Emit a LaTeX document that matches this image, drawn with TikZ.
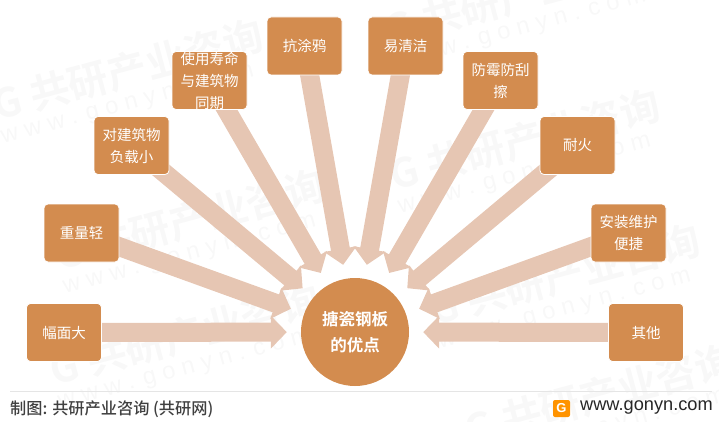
\documentclass[tikz,border=0pt]{standalone}
\usepackage{fontspec}
\usepackage{xcolor}
\usetikzlibrary{arrows.meta,backgrounds}
\newfontfamily\cjk{Noto Sans CJK SC}
\newfontfamily\cjkbold{Noto Sans CJK SC Bold}
\newfontfamily\cjkmedium{Noto Sans CJK SC Medium}
\setmainfont{Liberation Sans}
\definecolor{boxfill}{HTML}{D38C4F}
\definecolor{shaftfill}{HTML}{E6C6B3}
\definecolor{wmgray}{HTML}{F8F8F8}
\tikzset{
    benefit/.style={draw=white,line width=0.8pt,fill=boxfill,rounded corners=4pt,minimum width=75pt,minimum height=58pt,inner sep=0pt,align=center,text=white,font=\cjk\fontsize{14.5}{22}\selectfont},
    hub/.style={circle,fill=boxfill,minimum size=108pt,inner sep=0pt,align=center,text=white,font=\cjkbold\fontsize{16.5}{26}\selectfont},
    fatarrow/.style={draw=shaftfill,line width=19pt,-{Triangle[length=16pt,width=32pt,fill=shaftfill]},shorten >=14pt},
    wmarkbig/.style={text=wmgray,rotate=15,font=\cjkbold\fontsize{40}{40}\selectfont},
    wmarksmall/.style={text=wmgray,rotate=15,font=\fontsize{24}{24}\selectfont}
}
\begin{document}
\begin{tikzpicture}[x=1pt,y=-1pt]
    \useasboundingbox (0,0) rectangle (719,422);

    % Centre
    \node[hub] (hub) at (355,332) {搪瓷钢板\\的优点};

    % Boxes
    \node[benefit] (width) at (64,332.5) {幅面大};
    \node[benefit] (weight) at (81.5,233) {重量轻};
    \node[benefit] (load) at (131.5,145.5) {对建筑物\\负载小};
    \node[benefit] (life) at (209.5,80.5) {使用寿命\\与建筑物\\同期};
    \node[benefit] (graffiti) at (304.5,46) {抗涂鸦};
    \node[benefit] (clean) at (405.5,46) {易清洁};
    \node[benefit] (mould) at (500.5,80.5) {防霉防刮\\擦};
    \node[benefit] (fire) at (577.5,145.5) {耐火};
    \node[benefit] (install) at (628.5,233) {安装维护\\便捷};
    \node[benefit] (other) at (646,332.5) {其他};

    \begin{scope}[on background layer]
        % Watermark
        \foreach \n/\wx/\wy in {a/128/70,b/525/140,c/520/-5,d/190/220,e/565/275,f/185/335,g/600/395}{
            \node[wmarkbig] (wm\n) at (\wx,\wy) {G 共研产业咨询};
            \node[wmarksmall] (ww\n) at (\wx,\wy+36) {w w w . g o n y n . c o m};
        }
        % Arrows
        \foreach \from in {width,weight,load,life,graffiti,clean,mould,fire,install,other}
            \draw[fatarrow] (\from.center) -- (hub);
    \end{scope}

    % Footer
    \coordinate (ruleL) at (10,391);
    \coordinate (ruleR) at (712,391);
    \draw[black!10,line width=0.8pt] (ruleL) -- (ruleR);
    \node[anchor=west,inner sep=0pt,text=black!75,font=\cjkmedium\fontsize{16.2}{18}\selectfont] (source) at (10,409) {制图: 共研产业咨询 (共研网)};
    \node[anchor=west,inner sep=0pt,text=black!85,font=\fontsize{18.2}{20}\selectfont] (site) at (580,407.5) {www.gonyn.com};

    % Logo
    \fill[orange!85!yellow,rounded corners=2pt] (553,400) rectangle (570,417);
    \node[text=white,inner sep=0pt,font=\bfseries\fontsize{13}{13}\selectfont] (logo) at (561.5,408.5) {G};
\end{tikzpicture}
\end{document}
